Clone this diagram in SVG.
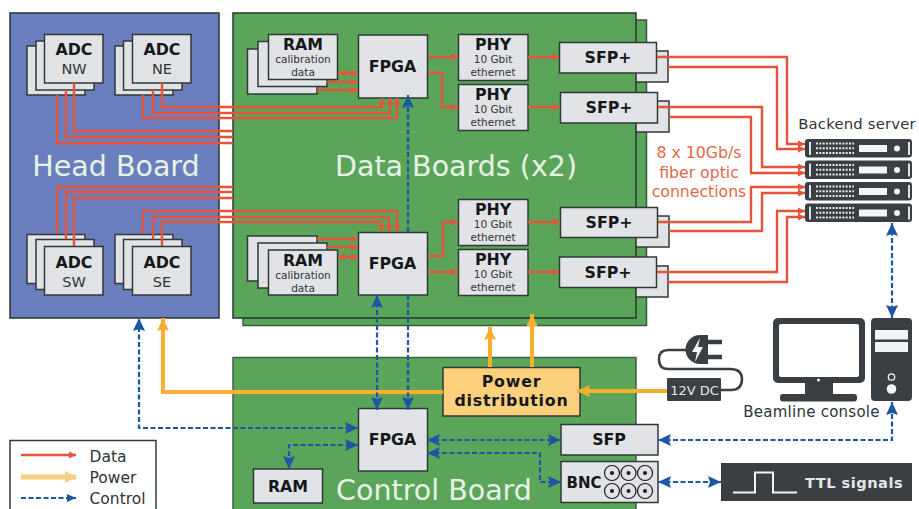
<svg xmlns="http://www.w3.org/2000/svg" xmlns:xlink="http://www.w3.org/1999/xlink" width="919" height="509" viewBox="0 0 919 509">
<style>
text{font-family:"DejaVu Sans","Liberation Sans",sans-serif;text-anchor:middle}
.box{fill:#e2e3e6;stroke:#2f3a36;stroke-width:1.5}
.board{fill:#5ba55a;stroke:#24382a;stroke-width:1.5}
.b{font-weight:bold;font-size:15.800px;fill:#14181a}
.s{font-size:14.500px;fill:#2f3436}
.t{font-size:10.500px;fill:#2f3436}
.big{font-size:28.500px;fill:#e6f3e6}
.lab{font-size:14.800px;fill:#2f3436}
.leg{font-size:15.500px;fill:#2f3436;text-anchor:start}
.dk{fill:#3a3f44}
.data{fill:none;stroke:#e5533a;stroke-width:2.400;marker-end:url(#r)}
.plain{fill:none;stroke:#e5533a;stroke-width:2.400}
.ctl{fill:none;stroke:#1c56a4;stroke-width:2.200;stroke-dasharray:5 2.5;marker-end:url(#bl)}
.ctl2{marker-start:url(#bl)}
.pw{fill:none;stroke:#f7b02e;stroke-width:4;marker-end:url(#o)}
</style>
<defs>
<marker id="r" markerUnits="userSpaceOnUse" markerWidth="8" markerHeight="8" refX="7" refY="4" orient="auto-start-reverse"><path d="M0 .5L7 4L0 7.500z" fill="#e5533a"/></marker>
<marker id="bl" markerUnits="userSpaceOnUse" markerWidth="14" markerHeight="12" refX="13" refY="6" orient="auto-start-reverse"><path d="M0 0L13 6L0 12L2 6z" fill="#1c56a4"/></marker>
<marker id="o" markerUnits="userSpaceOnUse" markerWidth="14" markerHeight="12" refX="13" refY="6" orient="auto-start-reverse"><path d="M0 0L13 6L0 12L2 6z" fill="#f7b02e"/></marker>
<marker id="ol" markerUnits="userSpaceOnUse" markerWidth="12" markerHeight="12" refX="11" refY="6" orient="auto"><path d="M0 0L11 6L0 12z" fill="#f7cf80"/></marker>
<marker id="bs" markerUnits="userSpaceOnUse" markerWidth="10" markerHeight="8" refX="9" refY="4" orient="auto"><path d="M0 0L9 4L0 8z" fill="#1c56a4"/></marker>
<g id="srv">
<rect x="0" y="0" width="107" height="18.500" rx="3" class="dk"/>
<rect x="4" y="3" width="2" height="13" fill="#dfe3e6"/>
<path d="M11 4.500H49M11 9.300H49M11 14H49" stroke="#e8eaec" stroke-width="2" stroke-dasharray="2 1.300" fill="none"/>
<rect x="54" y="6" width="28" height="7" fill="#f4f5f6"/>
<circle cx="92" cy="9.500" r="3" fill="#f4f5f6"/>
<rect x="103" y="3" width="2" height="13" fill="#dfe3e6"/>
</g>
</defs>
<rect width="919" height="509" fill="#fff"/>

<g id="head-board">
<rect class="board" style="fill:#6b7ebd" x="10" y="13" width="209" height="305"/>
<text class="big" x="116" y="176">Head Board</text>
</g>
<g id="data-boards">
<rect class="board" x="243" y="20" width="403.500" height="305.500" style="stroke:#3a5a3e"/>
<rect class="board" x="233" y="13" width="403" height="305"/>
<text class="big" x="456" y="176">Data Boards (x2)</text>
</g>
<g id="control-board">
<rect class="board" x="233" y="357.500" width="403" height="160" style="stroke:#3f5f44"/>
<text class="big" x="434" y="500">Control Board</text>
</g>

<g id="adc-nw">
<rect class="box" x="27" y="46" width="58" height="49"/><rect class="box" x="36" y="41" width="58" height="49"/><rect class="box" x="44.500" y="34.500" width="58.500" height="48.500"/>
<text class="b" x="74" y="55">ADC</text><text class="s" x="74" y="74">NW</text>
</g>
<g id="adc-ne">
<rect class="box" x="115" y="46" width="58" height="49"/><rect class="box" x="123.500" y="41" width="58.500" height="49"/><rect class="box" x="132.500" y="34.500" width="58.500" height="48.500"/>
<text class="b" x="162" y="55">ADC</text><text class="s" x="162" y="74">NE</text>
</g>
<g id="adc-sw">
<rect class="box" x="27" y="234.500" width="58" height="49"/><rect class="box" x="36" y="239.500" width="58" height="50"/><rect class="box" x="44.500" y="246.500" width="58.500" height="48.500"/>
<text class="b" x="74" y="268">ADC</text><text class="s" x="74" y="287">SW</text>
</g>
<g id="adc-se">
<rect class="box" x="115" y="234.500" width="58" height="49"/><rect class="box" x="123.500" y="239.500" width="58.500" height="50"/><rect class="box" x="132.500" y="246.500" width="58.500" height="48.500"/>
<text class="b" x="162" y="268">ADC</text><text class="s" x="162" y="287">SE</text>
</g>

<g id="ram-top">
<rect class="box" x="247.500" y="49" width="69.500" height="45"/><rect class="box" x="258" y="41.500" width="69" height="45"/><rect class="box" x="268.500" y="34.500" width="69" height="45"/>
<text class="b" x="303" y="50">RAM</text><text class="t" x="303" y="63">calibration</text><text class="t" x="303" y="75.500">data</text>
</g>
<g id="ram-bottom">
<rect class="box" x="247.500" y="236" width="69.500" height="45"/><rect class="box" x="258" y="243" width="69" height="45"/><rect class="box" x="268.500" y="250" width="69" height="45"/>
<text class="b" x="303" y="266">RAM</text><text class="t" x="303" y="279">calibration</text><text class="t" x="303" y="291.500">data</text>
</g>
<g id="fpga-top"><rect class="box" x="358.500" y="35" width="69" height="63"/><text class="b" x="392.500" y="72">FPGA</text></g>
<g id="fpga-bottom"><rect class="box" x="358.500" y="232.500" width="69" height="62.500"/><text class="b" x="392.500" y="269">FPGA</text></g>
<g id="phy-1"><rect class="box" x="458.500" y="34.500" width="69.500" height="46"/><text class="b" x="493" y="50">PHY</text><text class="t" x="493" y="63">10 Gbit</text><text class="t" x="493" y="76">ethernet</text></g>
<g id="phy-2"><rect class="box" x="458.500" y="84.500" width="69.500" height="46"/><text class="b" x="493" y="100">PHY</text><text class="t" x="493" y="113">10 Gbit</text><text class="t" x="493" y="126">ethernet</text></g>
<g id="phy-3"><rect class="box" x="458.500" y="199.500" width="69.500" height="46"/><text class="b" x="493" y="215">PHY</text><text class="t" x="493" y="228">10 Gbit</text><text class="t" x="493" y="241">ethernet</text></g>
<g id="phy-4"><rect class="box" x="458.500" y="249.500" width="69.500" height="46"/><text class="b" x="493" y="265">PHY</text><text class="t" x="493" y="278">10 Gbit</text><text class="t" x="493" y="291">ethernet</text></g>
<g id="sfp-1"><rect class="box" x="636" y="51" width="32" height="31"/><rect class="box" x="559.500" y="42.500" width="97" height="30.500"/><text class="b" x="608" y="63">SFP+</text></g>
<g id="sfp-2"><rect class="box" x="636" y="101" width="33" height="31"/><rect class="box" x="560.500" y="92.500" width="97" height="30.500"/><text class="b" x="609" y="113">SFP+</text></g>
<g id="sfp-3"><rect class="box" x="636" y="216" width="33" height="31"/><rect class="box" x="560.500" y="207.500" width="97" height="30"/><text class="b" x="609" y="228">SFP+</text></g>
<g id="sfp-4"><rect class="box" x="636" y="266" width="32" height="31"/><rect class="box" x="559.500" y="257" width="97" height="30.500"/><text class="b" x="608" y="278">SFP+</text></g>

<g id="power-distribution"><rect class="box" style="fill:#fdd07d" x="443" y="367.500" width="137" height="48.500"/><text class="b" x="511.500" y="387" style="letter-spacing:.8px">Power</text><text class="b" x="511.500" y="406" style="letter-spacing:.8px">distribution</text></g>
<g id="fpga-control"><rect class="box" x="358.500" y="408.500" width="69" height="62.500"/><text class="b" x="392.500" y="445">FPGA</text></g>
<g id="ram-control"><rect class="box" x="253.500" y="469" width="69" height="34"/><text class="b" x="288" y="492">RAM</text></g>
<g id="sfp-control"><rect class="box" x="561" y="424.500" width="97" height="30.500"/><text class="b" x="609" y="445">SFP</text></g>
<g id="bnc"><rect class="box" x="561" y="461.500" width="97" height="41"/><text class="b" style="font-size:15px" x="584" y="488">BNC</text>
<g fill="none" stroke="#1a1d1f" stroke-width="1.200"><circle cx="612" cy="473" r="7.500"/><circle cx="628.500" cy="473" r="7.500"/><circle cx="645" cy="473" r="7.500"/><circle cx="612" cy="491" r="7.500"/><circle cx="628.500" cy="491" r="7.500"/><circle cx="645" cy="491" r="7.500"/></g>
<g fill="#1a1d1f"><circle cx="612" cy="473" r="2"/><circle cx="628.500" cy="473" r="2"/><circle cx="645" cy="473" r="2"/><circle cx="612" cy="491" r="2"/><circle cx="628.500" cy="491" r="2"/><circle cx="645" cy="491" r="2"/></g></g>
<g id="ttl-signals"><rect class="dk" x="721" y="463" width="191" height="38"/><path d="M733 492.500H755V472.500H773V492.500H797" fill="none" stroke="#f2f3f4" stroke-width="2"/><text x="854" y="488" font-size="14.600" font-weight="bold" fill="#e4e6e8" style="letter-spacing:.5px">TTL signals</text></g>

<g id="backend-server">
<text class="lab" x="857" y="128.500" style="letter-spacing:.2px">Backend server</text>
<use xlink:href="#srv" href="#srv" x="805" y="139"/>
<use xlink:href="#srv" href="#srv" x="805" y="160.500"/>
<use xlink:href="#srv" href="#srv" x="805" y="182"/>
<use xlink:href="#srv" href="#srv" x="805" y="203.500"/>
</g>
<g id="beamline-console">
<rect class="dk" x="773" y="318" width="92" height="65" rx="5"/>
<rect x="779" y="324" width="80" height="53" rx="2" fill="#fff"/>
<circle cx="818.500" cy="380" r="1.500" fill="#fff"/>
<rect class="dk" x="805" y="383" width="28" height="12"/>
<rect class="dk" x="780" y="394" width="77" height="7.500" rx="3"/>
<rect class="dk" x="871" y="318" width="41" height="83" rx="4"/>
<rect x="875" y="330" width="33" height="9.500" fill="#f2f3f4"/>
<rect x="875" y="342" width="33" height="10" fill="#f2f3f4"/>
<circle cx="891.500" cy="377" r="3.200" fill="none" stroke="#f2f3f4" stroke-width="1.300"/>
<circle cx="891.500" cy="389" r="4.800" fill="#f2f3f4"/>
<text class="lab" x="811.500" y="417" style="font-size:15px;letter-spacing:.25px">Beamline console</text>
</g>
<g id="power-plug">
<path d="M686 350H668Q659 350 659 359Q659 369 668 369H730Q742 369 742 379Q742 390 731 390H720" fill="none" stroke="#3a3f44" stroke-width="2.500"/>
<path d="M708 335H700A14.500 14.500 0 0 0 700 364H708z" class="dk"/>
<path d="M706 342H722M706 357H722" stroke="#3a3f44" stroke-width="4.500" fill="none"/>
<path d="M700 338L692 352H697L695 362L703 347H698z" fill="#f4f5f6"/>
<rect class="dk" x="667" y="378" width="54" height="23" rx="1"/>
<text x="694.500" y="395" font-size="13" fill="#e4e6e8">12V DC</text>
</g>

<g id="connectors">
<path class="plain" d="M74 83V131H233"/><path class="plain" d="M66 90V137H233"/><path class="plain" d="M57 95V143H233"/>
<path class="data" d="M162 83V107H382V98"/><path class="data" d="M153 90V113H390V98"/><path class="data" d="M143 95V118H397V98"/>
<path class="plain" d="M57 234V187H233"/><path class="plain" d="M66 239V192H233"/><path class="plain" d="M74 246V198H233"/>
<path class="data" d="M143 234V211H397V232"/><path class="data" d="M153 239V217H389V232"/><path class="data" d="M162 246V222H381V232"/>
<path class="data" style="marker-start:url(#r)" d="M338 73H358"/><path class="data" d="M327 82H358"/><path class="data" d="M317 90H358"/>
<path class="data" d="M317 239H358"/><path class="data" d="M327 247H358"/><path class="data" style="marker-start:url(#r)" d="M338 257H358"/>
<path class="data" d="M428 57H458"/><path class="data" d="M428 73H442V107H458"/>
<path class="data" d="M428 256H443V222H458"/><path class="data" d="M428 272H458"/>
<path class="data" d="M528 57H559"/><path class="data" d="M528 107H560"/><path class="data" d="M528 222H560"/><path class="data" d="M528 272H559"/>
<path class="data" d="M657 57H787V144H805"/><path class="data" d="M668 67H777V149H805"/>
<path class="data" d="M658 107H762V167H805"/><path class="data" d="M669 117H751V173H805"/>
<path class="data" d="M658 222H751V187H805"/><path class="data" d="M669 231H762V193H805"/>
<path class="data" d="M657 272H777V211H805"/><path class="data" d="M668 282H787V217H805"/>

<path class="pw" d="M443 392H163V318"/>
<path class="pw" d="M490 367V327"/><path class="pw" d="M532 367V314"/>
<path class="pw" d="M667 391H577"/>

<path class="ctl" d="M408 232V95"/>
<path class="ctl ctl2" d="M377 295V410"/>
<path class="ctl" d="M408 295V410"/>
<path class="ctl ctl2" d="M358 428H139V318"/>
<path class="ctl ctl2" d="M358 445H289V469"/>
<path class="ctl ctl2" d="M427 440H561"/>
<path class="ctl ctl2" d="M427 453H540V482H561"/>
<path class="ctl ctl2" d="M658 440H892V402"/>
<path class="ctl ctl2" d="M658 482H721"/>
<path class="ctl ctl2" d="M892 223V318"/>
</g>

<g id="fiber-label" fill="#e0694a" font-size="15.700">
<text x="699" y="158">8 x 10Gb/s</text><text x="699" y="178">fiber optic</text><text x="699" y="197">connections</text>
</g>

<g id="legend">
<rect x="10" y="440.500" width="146" height="80" fill="#fff" stroke="#333a3d" stroke-width="1.500"/>
<path class="data" d="M21 455H76"/>
<path d="M21 477H76" fill="none" stroke="#f7cf80" stroke-width="5" marker-end="url(#ol)"/>
<path class="ctl" d="M21 498H76" style="marker-end:url(#bs)"/>
<text class="leg" x="89.500" y="461.500">Data</text><text class="leg" x="89.500" y="482.500">Power</text><text class="leg" x="89.500" y="504">Control</text>
</g>
</svg>
